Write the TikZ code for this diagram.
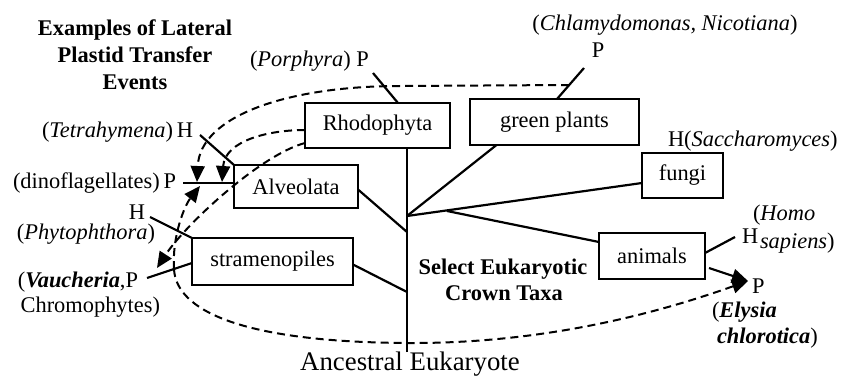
\documentclass[tikz,border=0pt]{standalone}
\usepackage{fontspec}
\setmainfont{Liberation Serif}
\usetikzlibrary{arrows.meta}
\begin{document}
\begin{tikzpicture}[x=0.5pt,y=-0.5pt,
  box/.style={draw, line width=1pt, inner sep=0pt, outer sep=0pt, font=\fontsize{11.2}{13.5}\selectfont},
  lbl/.style={inner sep=0pt, outer sep=0pt, font=\fontsize{11.2}{13.5}\selectfont},
  ttl/.style={inner sep=0pt, outer sep=0pt, font=\fontsize{11.2}{13.5}\selectfont\bfseries},
  tree/.style={line width=1.1pt},
  tick/.style={line width=1.1pt},
  transfer/.style={line width=1pt, dash pattern=on 4pt off 2.5pt},
  tipped/.style={-{Triangle[length=8pt,width=7pt]}}
]
\useasboundingbox (0,0) rectangle (856,385);

% title texts
\node[ttl, anchor=base] (t1) at (135,36) {Examples of Lateral};
\node[ttl, anchor=base] (t2) at (135,63) {Plastid Transfer};
\node[ttl, anchor=base] (t3) at (135,90) {Events};
\node[ttl, anchor=base] (s1) at (503,274) {Select Eukaryotic};
\node[ttl, anchor=base] (s2) at (504,300) {Crown Taxa};
\node[lbl, anchor=base, font=\fontsize{13.4}{16}\selectfont] (anc) at (410,370) {Ancestral Eukaryote};

% boxes
\node[box, minimum width=72.5pt, minimum height=22.5pt] (rho) at (377.5,125.5) {Rhodophyta};
\node[box, minimum width=84.5pt, minimum height=23pt] (gp) at (554.5,122) {green plants};
\node[box, minimum width=40.5pt, minimum height=22.5pt] (fun) at (682.5,175.5) {fungi};
\node[box, minimum width=53pt, minimum height=23pt] (ani) at (652,256) {animals};
\node[box, minimum width=62pt, minimum height=21.5pt] (alv) at (296,186.5) {Alveolata};
\node[box, minimum width=80.5pt, minimum height=23.5pt] (str) at (272.5,261.5) {stramenopiles};

% tree
\coordinate (root) at (407,352);
\coordinate (jA) at (407,232);
\coordinate (jS) at (407,292);
\coordinate (jG) at (407,216);
\coordinate (jB) at (447,211);
\draw[tree] (root) -- (root |- rho.south);
\draw[tree] ([yshift=-1.5pt]alv.east) -- (jA);
\draw[tree] ([yshift=-1.5pt]str.east) -- (jS);
\draw[tree] ([xshift=-29pt]gp.south) -- (jG);
\draw[tree] (jG) -- ([yshift=-3.75pt]fun.west);
\draw[tree] (jB) -- ([yshift=7pt]ani.west);

% labels
\node[lbl, anchor=base west] (lPor) at (250,67) {(\textit{Porphyra}) P};
\node[lbl, anchor=base] (lChl) at (665,31) {(\textit{Chlamydomonas, Nicotiana})};
\node[lbl, anchor=base] (lChlP) at (598,58) {P};
\node[lbl, anchor=base east] (lTet) at (193,137) {(\textit{Tetrahymena})\,H};
\node[lbl, anchor=base east] (lDin) at (176,188) {(dinoflagellates)\,P};
\node[lbl, anchor=base east] (lPhyH) at (145,219) {H};
\node[lbl, anchor=base east] (lPhy) at (155,239) {(\textit{Phytophthora})};
\node[lbl, anchor=base east] (lVau) at (138,287) {(\textbf{\textit{Vaucheria}},P};
\node[lbl, anchor=base east] (lChr) at (160,312) {Chromophytes)};
\node[lbl, anchor=base west] (lSac) at (668,147) {H(\textit{Saccharomyces})};
\node[lbl, anchor=base west] (lHomo) at (753,220) {(\textit{Homo}};
\node[lbl, anchor=base west] (lHomH) at (742,243) {H};
\node[lbl, anchor=base west] (lSap) at (760,248) {\textit{sapiens})};
\node[lbl, anchor=base west] (lElyP) at (752,293) {P};
\node[lbl, anchor=base west] (lEly) at (712,317) {(\textbf{\textit{Elysia}}};
\node[lbl, anchor=base west] (lChlo) at (717,343) {\textbf{\textit{chlorotica}})};

% ticks
\coordinate (pPor) at (373,73);
\coordinate (pChl) at (584,68);
\coordinate (hTet) at (200,135);
\coordinate (pDin) at (183,183);
\coordinate (hPhy) at (150,217);
\coordinate (pVau) at (147,278);
\coordinate (hHom) at (735,237);
\coordinate (pElyS) at (709,268);
\coordinate (pEly) at (748,281);
\draw[tick] (pPor) -- ([xshift=10.25pt]rho.north);
\draw[tick] (pChl) -- ([xshift=1.25pt]gp.north);
\draw[tick] (hTet) -- (alv.north west);
\draw[tick] (pDin) -- ([yshift=1.75pt]alv.west);
\draw[tick] (hPhy) -- (str.north west);
\draw[tick] (pVau) -- ([yshift=-0.75pt]str.west);
\draw[tick] (hHom) -- ([yshift=1.5pt]ani.east);
\draw[tick, tipped] (pElyS) -- (pEly);

% lateral transfers (dashed)
\coordinate (gStart) at (569,85);
\coordinate (gTip) at (197,182);
\coordinate (r1Tip) at (222,182);
\coordinate (r2Tip) at (157,268);
\coordinate (vS) at (174,269);
\coordinate (dTip) at (200,186);
\coordinate (mid) at (407,343);
\draw[transfer, tipped] (gStart) -- (400,86) .. controls (290,86) and (200,115) .. (gTip);
\draw[transfer, tipped] ([yshift=-2.25pt]rho.west) .. controls (270,130) and (225,140) .. (r1Tip);
\draw[transfer, tipped] ([yshift=-8.75pt]rho.west) .. controls (260,155) and (185,225) .. (r2Tip);
\draw[transfer, tipped] (vS) .. controls (172,235) and (185,205) .. (dTip);
\draw[transfer, tipped] (vS) .. controls (176,310) and (240,342) .. (mid) .. controls (560,344) and (680,305) .. (pEly);
\end{tikzpicture}
\end{document}
